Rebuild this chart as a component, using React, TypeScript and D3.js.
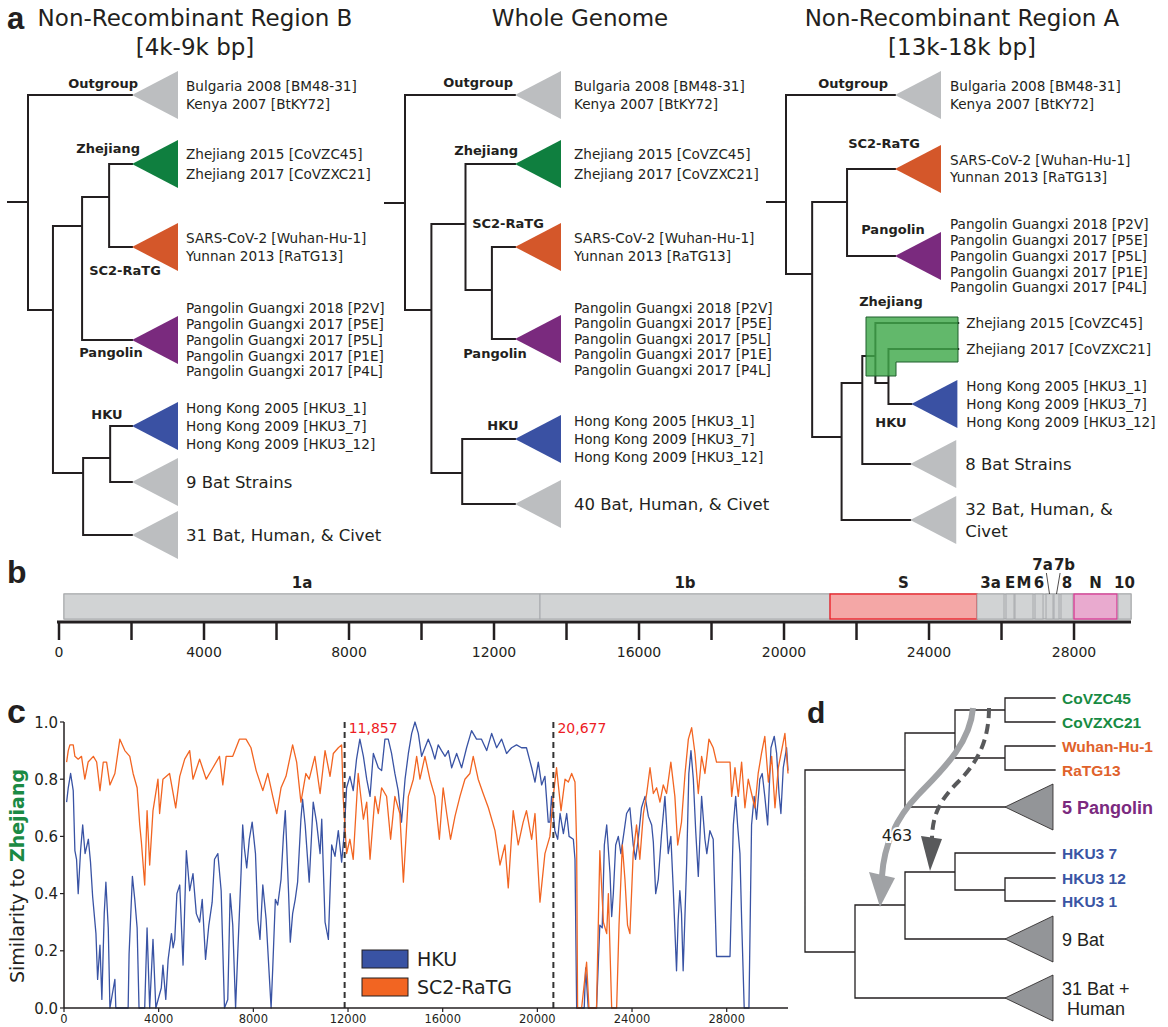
import React from 'react';
import * as d3 from 'd3';

const W = 1168;
const H = 1027;
const SANS = "'DejaVu Sans', Verdana, sans-serif";
const ARIAL = "'Liberation Sans', Arial, sans-serif";
const INK = '#231f20';

const COLORS: Record<string, string> = {
  out: '#bcbec0', zj: '#0f7f3f', sc2: '#d4572a', pang: '#7a2a7e', hku: '#3a51a3', bat: '#bcbec0', none: 'none',
};

// ---------- panel a: leaf names
const OUTGROUP = ['Bulgaria 2008 [BM48-31]', 'Kenya 2007 [BtKY72]'];
const ZHEJIANG = ['Zhejiang 2015 [CoVZC45]', 'Zhejiang 2017 [CoVZXC21]'];
const SC2 = ['SARS-CoV-2 [Wuhan-Hu-1]', 'Yunnan 2013 [RaTG13]'];
const PANGOLIN = [
  'Pangolin Guangxi 2018 [P2V]', 'Pangolin Guangxi 2017 [P5E]', 'Pangolin Guangxi 2017 [P5L]',
  'Pangolin Guangxi 2017 [P1E]', 'Pangolin Guangxi 2017 [P4L]',
];
const HKU = ['Hong Kong 2005 [HKU3_1]', 'Hong Kong 2009 [HKU3_7]', 'Hong Kong 2009 [HKU3_12]'];

type Node = {
  d: number; y: number; kids?: Node[];
  clade?: string; names?: string[]; tri?: boolean; gap?: number; big?: boolean;
};

// depth 0 = root, 100 = clade tip
const treeB: Node = { d: 0, y: 202, kids: [
  { d: 100, y: 95, clade: 'out', names: OUTGROUP, tri: true },
  { d: 24, y: 310, kids: [
    { d: 52, y: 226, kids: [
      { d: 78, y: 197, kids: [
        { d: 100, y: 164, clade: 'zj', names: ZHEJIANG, tri: true, gap: 20 },
        { d: 100, y: 247, clade: 'sc2', names: SC2, tri: true },
      ] },
      { d: 100, y: 340, clade: 'pang', names: PANGOLIN, tri: true, gap: 15.8 },
    ] },
    { d: 53, y: 473, kids: [
      { d: 79, y: 458, kids: [
        { d: 100, y: 426, clade: 'hku', names: HKU, tri: true },
        { d: 100, y: 482, clade: 'bat', names: ['9 Bat Strains'], tri: true, big: true },
      ] },
      { d: 100, y: 535, clade: 'bat', names: ['31 Bat, Human, & Civet'], tri: true, big: true },
    ] },
  ] },
] };

const treeWhole: Node = { d: 0, y: 203, kids: [
  { d: 100, y: 95, clade: 'out', names: OUTGROUP, tri: true },
  { d: 24, y: 310, kids: [
    { d: 55, y: 224, kids: [
      { d: 100, y: 164, clade: 'zj', names: ZHEJIANG, tri: true, gap: 20 },
      { d: 79, y: 290, kids: [
        { d: 100, y: 247, clade: 'sc2', names: SC2, tri: true },
        { d: 100, y: 339, clade: 'pang', names: PANGOLIN, tri: true, gap: 15.6 },
      ] },
    ] },
    { d: 52, y: 473, kids: [
      { d: 100, y: 439, clade: 'hku', names: HKU, tri: true },
      { d: 100, y: 504, clade: 'bat', names: ['40 Bat, Human, & Civet'], tri: true, big: true },
    ] },
  ] },
] };

const treeA: Node = { d: 0, y: 202, kids: [
  { d: 100, y: 95, clade: 'out', names: OUTGROUP, tri: true },
  { d: 24, y: 274, kids: [
    { d: 56, y: 202, kids: [
      { d: 100, y: 169, clade: 'sc2', names: SC2, tri: true, gap: 17 },
      { d: 100, y: 256, clade: 'pang', names: PANGOLIN, tri: true, gap: 15.8 },
    ] },
    { d: 51, y: 437, kids: [
      { d: 70, y: 383, kids: [
        { d: 82, y: 356, kids: [
          { d: 158, y: 323, clade: 'none', names: [ZHEJIANG[0]] },
          { d: 94, y: 383, kids: [
            { d: 158, y: 349, clade: 'none', names: [ZHEJIANG[1]] },
            { d: 115, y: 404, clade: 'hku', names: HKU, tri: true },
          ] },
        ] },
        { d: 114, y: 464, clade: 'bat', names: ['8 Bat Strains'], tri: true, big: true },
      ] },
      { d: 114, y: 520, clade: 'bat', names: ['32 Bat, Human, &', 'Civet'], tri: true, big: true, gap: 22 },
    ] },
  ] },
] };

// ---------- panel b: genome map (bp)
const GENES = [
  { name: '1a', start: 138, end: 13269 },
  { name: '1b', start: 13269, end: 21269 },
  { name: 'S', start: 21269, end: 25324 },
  { name: '3a', start: 25324, end: 26069 },
  { name: 'E', start: 26124, end: 26345 },
  { name: 'M', start: 26372, end: 26869 },
  { name: '6', start: 26924, end: 27145 },
  { name: '7a', start: 27228, end: 27421 },
  { name: '7b', start: 27448, end: 27586 },
  { name: '8', start: 27641, end: 27972 },
  { name: 'N', start: 28000, end: 29186 },
  { name: '10', start: 29214, end: 29572 },
];
const GENOME_LEN = 29572;

// ---------- panel c: similarity to Zhejiang [position bp, similarity]
const HKU_SIM: [number, number][] = [
  [110, 0.72], [180, 0.77], [280, 0.82], [390, 0.76], [460, 0.55], [530, 0.52], [600, 0.40], [700, 0.55], [790, 0.64], [890, 0.54],
  [1030, 0.59], [1120, 0.51], [1210, 0.39], [1350, 0.26], [1420, 0.10], [1520, 0.22], [1600, 0.03], [1700, 0.33], [1770, 0.44], [1870, 0.28],
  [1940, 0], [2150, 0.10], [2190, 0], [2710, 0], [2750, 0.19], [2890, 0.46], [2990, 0.38], [3090, 0.28], [3170, 0], [3410, 0],
  [3510, 0.28], [3620, 0], [3760, 0.24], [3880, 0], [4110, 0.07], [4180, 0.15], [4300, 0.03], [4400, 0.17], [4540, 0.26], [4610, 0.21],
  [4680, 0.24], [4770, 0.40], [4890, 0.43], [5030, 0.15], [5170, 0.55], [5310, 0.41], [5450, 0.47], [5590, 0.33], [5730, 0.30], [5840, 0.38],
  [5980, 0.17], [6120, 0.29], [6260, 0.37], [6360, 0.52], [6500, 0.54], [6640, 0.41], [6780, 0], [6920, 0.03], [7020, 0.40], [7130, 0.29],
  [7250, 0], [7340, 0.19], [7480, 0.47], [7550, 0.64], [7620, 0.56], [7720, 0.49], [7830, 0.59], [7950, 0.65], [8090, 0.54], [8190, 0.31],
  [8280, 0.24], [8400, 0.43], [8540, 0.31], [8750, 0], [8820, 0.14], [8930, 0.38], [9030, 0.36], [9170, 0.45], [9270, 0.60], [9350, 0.69],
  [9490, 0.40], [9560, 0.23], [9660, 0.33], [9770, 0.38], [9870, 0.44], [10010, 0.66], [10080, 0.73], [10190, 0.64], [10360, 0.44], [10530, 0.72],
  [10670, 0.65], [10820, 0.54], [10890, 0.66], [11030, 0.30], [11170, 0.24], [11310, 0.57], [11450, 0.53], [11590, 0.62], [11730, 0.51], [11830, 0.60],
  [11940, 0.77], [12080, 0.81], [12220, 0.76], [12360, 0.87], [12500, 0.94], [12650, 0.88], [12790, 0.80], [12930, 0.74], [13070, 0.89], [13280, 0.84],
  [13420, 0.83], [13560, 0.94], [13700, 0.94], [13840, 0.89], [13980, 0.82], [14120, 0.76], [14260, 0.65], [14410, 0.80], [14550, 0.89], [14690, 0.96],
  [14830, 1.0], [14970, 0.96], [15110, 0.88], [15250, 0.91], [15390, 0.94], [15530, 0.91], [15670, 0.87], [15810, 0.92], [15950, 0.90], [16100, 0.88],
  [16240, 0.90], [16380, 0.84], [16590, 0.89], [16800, 0.84], [17010, 0.91], [17220, 0.97], [17430, 0.94], [17640, 0.94], [17860, 0.90], [18070, 0.96],
  [18280, 0.91], [18490, 0.94], [18700, 0.89], [18910, 0.91], [19120, 0.92], [19330, 0.91], [19540, 0.91], [19760, 0.84], [19900, 0.79], [20040, 0.86],
  [20180, 0.78], [20320, 0.81], [20460, 0.65], [20530, 0.65], [20600, 0.74], [20740, 0.62], [20860, 0.59], [20960, 0.68], [21100, 0.61], [21240, 0.68],
  [21340, 0.60], [21520, 0.59], [21590, 0.52], [21660, 0], [21980, 0], [22040, 0.14], [22150, 0], [22500, 0], [22640, 0.29], [22740, 0.28],
  [22830, 0.57], [22930, 0.64], [23070, 0.47], [23140, 0.32], [23210, 0.40], [23310, 0.57], [23420, 0.60], [23530, 0.54], [23670, 0.62], [23770, 0.68],
  [23910, 0.70], [24050, 0.57], [24150, 0.52], [24260, 0.59], [24400, 0.70], [24550, 0.74], [24690, 0.67], [24830, 0.64], [24900, 0.58], [25000, 0.40],
  [25110, 0.45], [25250, 0.61], [25390, 0.74], [25530, 0.54], [25640, 0.60], [25740, 0.42], [25880, 0.13], [25950, 0.31], [26020, 0.41], [26090, 0.33],
  [26160, 0.13], [26310, 0.51], [26400, 0.82], [26490, 0.90], [26590, 0.80], [26690, 0.62], [26800, 0.46], [26940, 0.74], [27080, 0.59], [27160, 0.54],
  [27290, 0.62], [27430, 0.59], [27570, 0.18], [28140, 0.18], [28280, 0.64], [28380, 0.74], [28460, 0.64], [28560, 0.54], [28630, 0.31], [28740, 0],
  [28940, 0], [29050, 0.64], [29160, 0.74], [29260, 0.66], [29400, 0.80], [29500, 0.82], [29610, 0.74], [29730, 0.64], [29870, 0.91], [30010, 0.95],
  [30110, 0.89], [30210, 0.75], [30290, 0.68], [30390, 0.84], [30530, 0.91], [30590, 0.83],
];

const SC2_SIM: [number, number][] = [
  [110, 0.86], [180, 0.90], [250, 0.92], [390, 0.92], [460, 0.88], [600, 0.87], [740, 0.88], [880, 0.80], [1020, 0.86], [1240, 0.88],
  [1380, 0.86], [1520, 0.76], [1660, 0.86], [1800, 0.86], [1940, 0.78], [2150, 0.82], [2360, 0.94], [2570, 0.90], [2780, 0.88], [2920, 0.82],
  [3090, 0.77], [3200, 0.64], [3270, 0.58], [3410, 0.43], [3510, 0.69], [3620, 0.50], [3760, 0.69], [3970, 0.80], [4040, 0.68], [4180, 0.80],
  [4460, 0.82], [4720, 0.70], [4890, 0.81], [5100, 0.87], [5310, 0.90], [5450, 0.80], [5730, 0.87], [6010, 0.80], [6290, 0.84], [6570, 0.88],
  [6710, 0.78], [6850, 0.88], [7130, 0.88], [7410, 0.94], [7690, 0.94], [7900, 0.91], [8120, 0.83], [8400, 0.76], [8610, 0.82], [8820, 0.74],
  [8990, 0.68], [9170, 0.77], [9380, 0.81], [9660, 0.92], [9830, 0.86], [10010, 0.72], [10220, 0.82], [10360, 0.80], [10600, 0.88], [10820, 0.75],
  [11030, 0.90], [11240, 0.81], [11380, 0.89], [11590, 0.91], [11730, 0.92], [11800, 0.73], [11940, 0.54], [12080, 0.59], [12220, 0.52], [12430, 0.82],
  [12650, 0.66], [12790, 0.72], [12930, 0.52], [13140, 0.74], [13280, 0.68], [13420, 0.77], [13630, 0.74], [13800, 0.59], [13980, 0.74], [14190, 0.68],
  [14340, 0.44], [14550, 0.74], [14760, 0.80], [14900, 0.88], [15040, 0.80], [15250, 0.88], [15460, 0.80], [15670, 0.74], [15860, 0.59], [16020, 0.77],
  [16170, 0.68], [16330, 0.59], [16520, 0.67], [16730, 0.74], [16940, 0.80], [17150, 0.82], [17290, 0.88], [17500, 0.80], [17710, 0.75], [17930, 0.70],
  [18210, 0.62], [18420, 0.50], [18630, 0.57], [18770, 0.42], [18980, 0.69], [19190, 0.57], [19400, 0.65], [19540, 0.69], [19760, 0.59], [19900, 0.68],
  [20110, 0.37], [20320, 0.54], [20530, 0.60], [20670, 0.74], [20810, 0.84], [21000, 0.69], [21170, 0.80], [21310, 0.79], [21450, 0.82], [21590, 0.79],
  [21660, 0.57], [21700, 0], [21870, 0], [22080, 0.16], [22180, 0], [22500, 0], [22640, 0.55], [22790, 0.30], [22930, 0.26], [23000, 0.40],
  [23140, 0], [23350, 0], [23450, 0.29], [23590, 0.57], [23700, 0.45], [23810, 0.29], [23910, 0.26], [24050, 0.54], [24190, 0.64], [24330, 0.52],
  [24480, 0.68], [24620, 0.75], [24760, 0.84], [24900, 0.75], [25040, 0.77], [25180, 0.72], [25320, 0.78], [25460, 0.75], [25640, 0.86], [25810, 0.74],
  [25930, 0.57], [26090, 0.65], [26240, 0.82], [26380, 0.94], [26520, 0.98], [26660, 0.89], [26800, 0.75], [26940, 0.88], [27080, 0.82], [27250, 0.94],
  [27430, 0.91], [27570, 0.86], [28140, 0.86], [28210, 0.74], [28350, 0.84], [28490, 0.74], [28630, 0.86], [28770, 0.70], [28910, 0.80], [29050, 0.75],
  [29190, 0.70], [29330, 0.82], [29470, 0.89], [29610, 0.95], [29760, 0.79], [29900, 0.88], [30040, 0.70], [30180, 0.84], [30320, 0.90], [30460, 0.96],
  [30590, 0.82],
];
const BREAKPOINTS = [11857, 20677];
const C_XMAX = 30590;

// ---------- panel d
type DNode = { d: number; y: number; kids?: DNode[]; name?: string; color?: string; tri?: boolean; big?: boolean; lines?: string[] };
const D_GREEN = '#178b43';
const D_ORANGE = '#e0622b';
const D_PURPLE = '#7b2a7f';
const D_BLUE = '#3a55a4';
const treeD: DNode = { d: 0, y: 861, kids: [
  { d: 40, y: 770, kids: [
    { d: 60, y: 733, kids: [
      { d: 80, y: 710, kids: [
        { d: 100, y: 698, name: 'CoVZC45', color: D_GREEN },
        { d: 100, y: 722, name: 'CoVZXC21', color: D_GREEN },
      ] },
      { d: 80, y: 758, kids: [
        { d: 100, y: 746, name: 'Wuhan-Hu-1', color: D_ORANGE },
        { d: 100, y: 770, name: 'RaTG13', color: D_ORANGE },
      ] },
    ] },
    { d: 80, y: 807, name: '5 Pangolin', color: D_PURPLE, tri: true, big: true },
  ] },
  { d: 20, y: 952, kids: [
    { d: 40, y: 905, kids: [
      { d: 60, y: 872, kids: [
        { d: 100, y: 853, name: 'HKU3 7', color: D_BLUE },
        { d: 80, y: 890, kids: [
          { d: 100, y: 878, name: 'HKU3 12', color: D_BLUE },
          { d: 100, y: 901, name: 'HKU3 1', color: D_BLUE },
        ] },
      ] },
      { d: 80, y: 939, lines: ['9 Bat'], tri: true },
    ] },
    { d: 80, y: 998, lines: ['31 Bat +', 'Human'], tri: true },
  ] },
] };

function elbowPath(root: any, sx: (v: number) => number): string {
  const h = d3.hierarchy(root, (n: any) => n.kids);
  const parts: string[] = [];
  h.each((n: any) => {
    if (!n.children) return;
    const ys = n.children.map((c: any) => c.data.y);
    parts.push(`M${sx(n.data.d)},${d3.min(ys)}V${d3.max(ys)}`);
    n.children.forEach((c: any) => parts.push(`M${sx(n.data.d)},${c.data.y}H${sx(c.data.d)}`));
  });
  return parts.join('');
}

type Clabel = { t: string; x: number; y: number; a: 'start' | 'middle' | 'end' };

function Tree({ root, x0, x1, stub, labelGap, clades }: { root: Node; x0: number; x1: number; stub: number; labelGap: number; clades: Clabel[] }) {
  const sx = d3.scaleLinear().domain([0, 100]).range([x0, x1]);
  const leaves = d3.hierarchy(root, (n) => n.kids).leaves().map((l) => l.data);
  return (
    <g>
      <path d={`M${x0 - stub},${root.y}H${x0}` + elbowPath(root, sx)} stroke={INK} strokeWidth={2} fill="none" strokeLinecap="square" />
      {leaves.map((lf, i) => {
        const tx = sx(lf.d);
        const baseX = lf.tri ? tx + 46 : tx;
        const names = lf.names || [];
        const gap = lf.gap ?? (lf.big ? 22 : 18);
        const fs = lf.big ? 16.5 : 13.6;
        return (
          <g key={i}>
            {lf.tri && (
              <polygon points={`${tx},${lf.y} ${baseX},${lf.y - 24} ${baseX},${lf.y + 24}`} fill={COLORS[lf.clade!]} />
            )}
            {names.map((nm, j) => (
              <text key={j} x={baseX + (lf.tri ? labelGap : 8)} y={lf.y + (j - (names.length - 1) / 2) * gap + fs * 0.36}
                fontFamily={SANS} fontSize={fs} fill={INK}>{nm}</text>
            ))}
          </g>
        );
      })}
      {clades.map((c, i) => (
        <text key={i} x={c.x} y={c.y + 4.7} textAnchor={c.a} fontFamily={SANS} fontWeight="bold" fontSize={13} fill={INK}>{c.t}</text>
      ))}
    </g>
  );
}

function PanelA() {
  return (
    <g>
      <text x={7} y={29} fontFamily={ARIAL} fontWeight="bold" fontSize={31} fill={INK}>a</text>
      {[
        { x: 195, l: ['Non-Recombinant Region B', '[4k-9k bp]'] },
        { x: 580, l: ['Whole Genome'] },
        { x: 962, l: ['Non-Recombinant Region A', '[13k-18k bp]'] },
      ].map((t, i) => (
        <text key={i} textAnchor="middle" fontFamily={SANS} fontSize={23} fill={INK}>
          {t.l.map((s, j) => <tspan key={j} x={t.x} y={26 + j * 29}>{s}</tspan>)}
        </text>
      ))}
      <Tree root={treeB} x0={28} x1={132} stub={20} labelGap={8} clades={[
        { t: 'Outgroup', x: 138, y: 83, a: 'end' },
        { t: 'Zhejiang', x: 140, y: 148, a: 'end' },
        { t: 'SC2-RaTG', x: 125, y: 270, a: 'middle' },
        { t: 'Pangolin', x: 111, y: 352, a: 'middle' },
        { t: 'HKU', x: 107, y: 414, a: 'middle' },
      ]} />
      <Tree root={treeWhole} x0={405} x1={515} stub={20} labelGap={13} clades={[
        { t: 'Outgroup', x: 513, y: 82, a: 'end' },
        { t: 'Zhejiang', x: 518, y: 150, a: 'end' },
        { t: 'SC2-RaTG', x: 508, y: 223, a: 'middle' },
        { t: 'Pangolin', x: 495, y: 353, a: 'middle' },
        { t: 'HKU', x: 503, y: 425, a: 'middle' },
      ]} />
      <Tree root={treeA} x0={786} x1={895} stub={19} labelGap={9} clades={[
        { t: 'Outgroup', x: 888, y: 83, a: 'end' },
        { t: 'SC2-RaTG', x: 884, y: 143, a: 'middle' },
        { t: 'Pangolin', x: 893, y: 229, a: 'middle' },
        { t: 'Zhejiang', x: 891, y: 301, a: 'middle' },
        { t: 'HKU', x: 891, y: 422, a: 'middle' },
      ]} />
      {/* highlight of the Zhejiang lineage in region A */}
      <polygon points="866,317 958,317 958,362 896,362 896,376 866,376" fill="#3fa84a" fillOpacity={0.82} stroke="#1f5f2c" strokeWidth={1} />
    </g>
  );
}

function PanelB() {
  const xB = d3.scaleLinear().domain([0, GENOME_LEN]).range([59, 1131]);
  const top = 594;
  const bot = 619;
  const raised: Record<string, number> = { '7a': -7, '7b': 8 };
  return (
    <g>
      <text x={7} y={583} fontFamily={ARIAL} fontWeight="bold" fontSize={32} fill={INK}>b</text>
      <rect x={xB(GENES[0].start)} y={top} width={xB(GENOME_LEN) - xB(GENES[0].start)} height={bot - top} fill="#d1d3d4" stroke="#939598" strokeWidth={1} />
      {GENES.map((g) => {
        const isS = g.name === 'S';
        const isN = g.name === 'N';
        return (
          <rect key={g.name} x={xB(g.start)} y={top} width={xB(g.end) - xB(g.start)} height={bot - top}
            fill={isS ? '#f4a7a6' : isN ? '#e9aacf' : '#d1d3d4'}
            stroke={isS ? '#ed1c24' : isN ? '#d93a95' : '#a7a9ac'} strokeWidth={isS || isN ? 1.3 : 1} />
        );
      })}
      {GENES.map((g) => {
        const mid = xB((g.start + g.end) / 2);
        const dx = raised[g.name];
        if (dx !== undefined) {
          return (
            <g key={g.name}>
              <text x={mid + dx} y={570} textAnchor="middle" fontFamily={SANS} fontWeight="bold" fontSize={15} fill={INK}>{g.name}</text>
              <line x1={mid + dx * 0.45} y1={573} x2={mid} y2={top} stroke={INK} strokeWidth={0.8} />
            </g>
          );
        }
        return (
          <text key={g.name} x={mid} y={588} textAnchor="middle" fontFamily={SANS} fontWeight="bold" fontSize={15} fill={INK}>{g.name}</text>
        );
      })}
      <line x1={57} x2={xB(GENOME_LEN)} y1={622} y2={622} stroke={INK} strokeWidth={3} />
      {d3.range(0, 28001, 2000).map((t) => (
        <line key={t} x1={xB(t)} x2={xB(t)} y1={622} y2={640} stroke={INK} strokeWidth={2.5} />
      ))}
      {d3.range(0, 28001, 4000).map((t) => (
        <text key={t} x={xB(t)} y={657} textAnchor="middle" fontFamily={SANS} fontSize={14} fill={INK}>{t}</text>
      ))}
    </g>
  );
}

function PanelC() {
  const xC = d3.scaleLinear().domain([0, C_XMAX]).range([64, 788]);
  const yC = d3.scaleLinear().domain([0, 1]).range([1008, 722]);
  const line = d3.line<[number, number]>().x((d) => xC(d[0])).y((d) => yC(d[1]));
  return (
    <g>
      <text x={7} y={723} fontFamily={ARIAL} fontWeight="bold" fontSize={34} fill={INK}>c</text>
      <path d={line(HKU_SIM)!} fill="none" stroke="#3953a4" strokeWidth={1.3} strokeLinejoin="round" />
      <path d={line(SC2_SIM)!} fill="none" stroke="#f26522" strokeWidth={1.3} strokeLinejoin="round" />
      {BREAKPOINTS.map((b) => (
        <g key={b}>
          <line x1={xC(b)} x2={xC(b)} y1={yC(1)} y2={yC(0)} stroke="#333" strokeWidth={2} strokeDasharray="6 4" />
          <text x={xC(b) + 4} y={733} fontFamily={SANS} fontSize={14} fill="#ed1c24">{d3.format(',')(b)}</text>
        </g>
      ))}
      <line x1={64} x2={64} y1={yC(1)} y2={yC(0)} stroke={INK} strokeWidth={1.5} />
      <line x1={64} x2={788} y1={yC(0)} y2={yC(0)} stroke={INK} strokeWidth={1.5} />
      {d3.range(0, 1.01, 0.2).map((t) => (
        <g key={t}>
          <line x1={60} x2={64} y1={yC(t)} y2={yC(t)} stroke={INK} strokeWidth={1.2} />
          <text x={58} y={yC(t) + 5.5} textAnchor="end" fontFamily={SANS} fontSize={15} fill={INK}>{d3.format('.1f')(t)}</text>
        </g>
      ))}
      {d3.range(0, 28001, 4000).map((t) => (
        <g key={t}>
          <line x1={xC(t)} x2={xC(t)} y1={1008} y2={1012} stroke={INK} strokeWidth={1.2} />
          <text x={xC(t)} y={1023} textAnchor="middle" fontFamily={SANS} fontSize={11.5} fill={INK}>{t}</text>
        </g>
      ))}
      <text transform="translate(24,876) rotate(-90)" textAnchor="middle" fontFamily={SANS} fontSize={19} fill={INK}>
        Similarity to <tspan fontWeight="bold" fill="#1b8a44">Zhejiang</tspan>
      </text>
      {[{ t: 'HKU', c: '#3953a4' }, { t: 'SC2-RaTG', c: '#f26522' }].map((s, i) => (
        <g key={s.t}>
          <rect x={362} y={950 + i * 28} width={46} height={18} fill={s.c} stroke={INK} strokeWidth={1} />
          <text x={417} y={966 + i * 28} fontFamily={SANS} fontSize={19} fill={INK}>{s.t}</text>
        </g>
      ))}
    </g>
  );
}

function PanelD() {
  const sx = d3.scaleLinear().domain([0, 100]).range([805, 1055]);
  const leaves = d3.hierarchy(treeD, (n) => n.kids).leaves().map((l) => l.data);
  const solid = d3.path();
  solid.moveTo(973, 708);
  solid.bezierCurveTo(970, 745, 940, 772, 918, 795);
  solid.bezierCurveTo(896, 818, 884, 845, 882, 876);
  const dashed = d3.path();
  dashed.moveTo(989, 708);
  dashed.bezierCurveTo(989, 740, 978, 762, 958, 782);
  dashed.bezierCurveTo(940, 800, 932, 815, 932, 840);
  return (
    <g>
      <text x={807} y={723} fontFamily={ARIAL} fontWeight="bold" fontSize={30} fill={INK}>d</text>
      <path d={elbowPath(treeD, sx)} stroke={INK} strokeWidth={1.3} fill="none" strokeLinecap="square" />
      {leaves.map((lf, i) => {
        const tx = sx(lf.d);
        if (lf.tri) {
          const lines = lf.lines || [lf.name!];
          return (
            <g key={i}>
              <polygon points={`${tx},${lf.y} ${tx + 48},${lf.y - 23} ${tx + 48},${lf.y + 23}`} fill="#939598" stroke={INK} strokeWidth={0.8} />
              {lines.map((s, j) => (
                <text key={j} x={j === 0 ? 1062 : 1067} y={lf.y + (j - (lines.length - 1) / 2) * 20 + 6.5}
                  fontFamily={ARIAL} fontWeight={lf.big ? 'bold' : 'normal'} fontSize={18} fill={lf.color || INK}>{s}</text>
              ))}
            </g>
          );
        }
        return (
          <text key={i} x={1062} y={lf.y + 5.5} fontFamily={ARIAL} fontWeight="bold" fontSize={15.5} fill={lf.color}>{lf.name}</text>
        );
      })}
      <path d={solid.toString()} fill="none" stroke="#a0a2a5" strokeWidth={6} />
      <polygon points="869,872 895,878 880,907" fill="#a0a2a5" />
      <path d={dashed.toString()} fill="none" stroke="#58595b" strokeWidth={4} strokeDasharray="10 6" />
      <polygon points="921,836 942,839 930,871" fill="#58595b" />
      <text x={897} y={841} textAnchor="middle" fontFamily={SANS} fontSize={16} fill={INK}
        stroke="#fff" strokeWidth={4} paintOrder="stroke">463</text>
    </g>
  );
}

export default function App() {
  return (
    <svg width={W} height={H} viewBox={`0 0 ${W} ${H}`} style={{ position: 'absolute', left: 0, top: 0, background: '#fff' }}>
      <rect width={W} height={H} fill="#fff" />
      <PanelA />
      <PanelB />
      <PanelC />
      <PanelD />
    </svg>
  );
}
